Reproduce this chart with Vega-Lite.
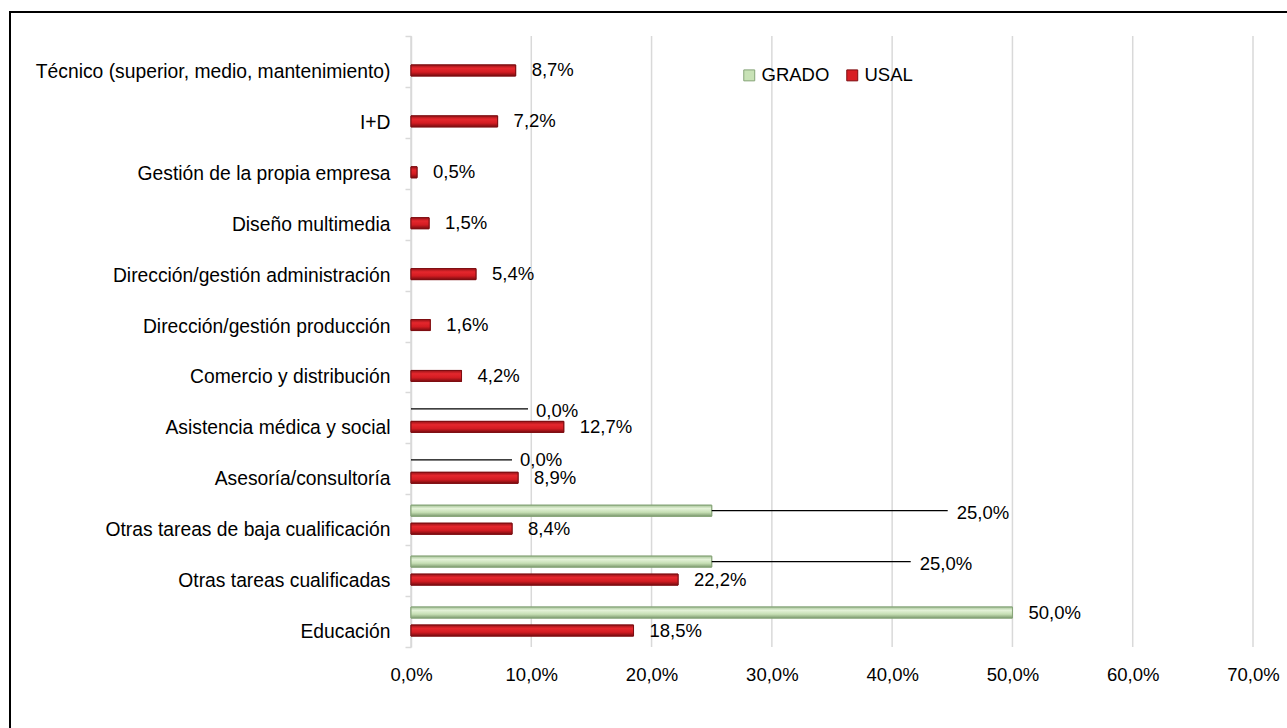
{
  "$schema": "https://vega.github.io/schema/vega-lite/v6.json",
  "width": 1277,
  "height": 716,
  "autosize": {"type": "none"},
  "padding": {"left": 10, "top": 12, "right": 0, "bottom": 0},
  "background": "white",
  "datasets": {
    "bars": [
      {"cat": "Técnico (superior, medio, mantenimiento)", "serie": "USAL", "v": 0.087},
      {"cat": "I+D", "serie": "USAL", "v": 0.072},
      {"cat": "Gestión  de la propia empresa", "serie": "USAL", "v": 0.005},
      {"cat": "Diseño multimedia", "serie": "USAL", "v": 0.015},
      {"cat": "Dirección/gestión administración", "serie": "USAL", "v": 0.054},
      {"cat": "Dirección/gestión producción", "serie": "USAL", "v": 0.016},
      {"cat": "Comercio y distribución", "serie": "USAL", "v": 0.042},
      {"cat": "Asistencia médica y social", "serie": "USAL", "v": 0.127},
      {"cat": "Asesoría/consultoría", "serie": "USAL", "v": 0.089},
      {"cat": "Otras tareas de baja cualificación", "serie": "USAL", "v": 0.084},
      {"cat": "Otras tareas cualificadas", "serie": "USAL", "v": 0.222},
      {"cat": "Educación", "serie": "USAL", "v": 0.185},
      {"cat": "Asistencia médica y social", "serie": "GRADO", "v": 0.0},
      {"cat": "Asesoría/consultoría", "serie": "GRADO", "v": 0.0},
      {"cat": "Otras tareas de baja cualificación", "serie": "GRADO", "v": 0.25},
      {"cat": "Otras tareas cualificadas", "serie": "GRADO", "v": 0.25},
      {"cat": "Educación", "serie": "GRADO", "v": 0.5}
    ],
    "grid": [{"t": 0}, {"t": 0.1}, {"t": 0.2}, {"t": 0.3}, {"t": 0.4}, {"t": 0.5}, {"t": 0.6}, {"t": 0.7}]
  },
  "layer": [
    {
      "data": {"name": "grid"},
      "mark": {"type": "rule", "color": "#D9D9D9", "strokeWidth": 1.5},
      "encoding": {
        "x": {
          "field": "t",
          "type": "quantitative",
          "scale": {"domain": [0, 0.7], "range": [401, 1243], "nice": false},
          "axis": {
            "title": null,
            "orient": "bottom",
            "offset": -81,
            "format": ".1%",
            "values": [0, 0.1, 0.2, 0.3, 0.4, 0.5, 0.6, 0.7],
            "domain": false,
            "ticks": false,
            "tickSize": 0,
            "grid": false,
            "labelFlush": false,
            "labelPadding": 18
          }
        },
        "y": {"datum": 0, "type": "quantitative", "scale": {"domain": [0, 1], "range": [24, 635], "nice": false, "zero": false}, "axis": null},
        "y2": {"datum": 1}
      }
    },
    {
      "data": {"name": "bars"},
      "encoding": {
        "y": {
          "field": "cat",
          "type": "nominal",
          "sort": null,
          "scale": {
            "type": "band",
            "domain": ["Técnico (superior, medio, mantenimiento)", "I+D", "Gestión  de la propia empresa", "Diseño multimedia", "Dirección/gestión administración", "Dirección/gestión producción", "Comercio y distribución", "Asistencia médica y social", "Asesoría/consultoría", "Otras tareas de baja cualificación", "Otras tareas cualificadas", "Educación"],
            "range": [24, 635],
            "paddingInner": 0,
            "paddingOuter": 0
          },
          "axis": {
            "title": null,
            "offset": -401,
            "domainColor": "#D9D9D9",
            "domainWidth": 1.5,
            "tickColor": "#D9D9D9",
            "tickWidth": 1.5,
            "tickSize": 6,
            "tickBand": "extent",
            "labelPadding": 15,
            "labelOffset": 10,
            "labelFontSize": 19.3,
            "grid": false,
            "labelLimit": 500
          }
        },
        "yOffset": {
          "field": "serie",
          "type": "nominal",
          "scale": {"domain": ["GRADO", "USAL"], "paddingInner": 0.389, "paddingOuter": 0.609}
        },
        "x": {
          "field": "v",
          "type": "quantitative",
          "scale": {"domain": [0, 0.7], "range": [401, 1243], "nice": false},
          "axis": {
            "title": null,
            "orient": "bottom",
            "offset": -81,
            "format": ".1%",
            "values": [0, 0.1, 0.2, 0.3, 0.4, 0.5, 0.6, 0.7],
            "domain": false,
            "ticks": false,
            "tickSize": 0,
            "grid": false,
            "labelFlush": false,
            "labelPadding": 18
          }
        }
      },
      "layer": [
        {
          "transform": [{"filter": "datum.v > 0"}],
          "mark": {"type": "bar", "strokeWidth": 1},
          "encoding": {
            "fill": {
              "field": "serie",
              "type": "nominal",
              "scale": {"domain": ["GRADO", "USAL"], "range": ["#C8E2B6", "#D81E24"]},
              "legend": {
                "title": null,
                "orient": "none",
                "legendX": 730,
                "legendY": 54,
                "direction": "horizontal",
                "symbolType": "square",
                "symbolSize": 120,
                "symbolStrokeWidth": 1,
                "labelFontSize": 18.5,
                "labelOffset": 3,
                "columnPadding": 13
              }
            },
            "stroke": {
              "field": "serie",
              "type": "nominal",
              "scale": {"domain": ["GRADO", "USAL"], "range": ["#86A478", "#7E0E12"]},
              "legend": null
            }
          }
        },
        {
          "transform": [{"filter": "datum.serie === 'USAL' && datum.v > 0"}],
          "mark": {
            "type": "bar",
            "stroke": "#7E0E12",
            "strokeWidth": 1,
            "fill": {
              "x1": 0, "y1": 0, "x2": 0, "y2": 1,
              "gradient": "linear",
              "stops": [
                {"offset": 0, "color": "#9A1418"},
                {"offset": 0.3, "color": "#E5272D"},
                {"offset": 0.65, "color": "#D31C22"},
                {"offset": 1, "color": "#7A0C10"}
              ]
            }
          },
          "encoding": {}
        },
        {
          "transform": [{"filter": "datum.serie === 'GRADO' && datum.v > 0"}],
          "mark": {
            "type": "bar",
            "stroke": "#86A478",
            "strokeWidth": 1,
            "fill": {
              "x1": 0, "y1": 0, "x2": 0, "y2": 1,
              "gradient": "linear",
              "stops": [
                {"offset": 0, "color": "#A6C498"},
                {"offset": 0.3, "color": "#E4F2D8"},
                {"offset": 0.65, "color": "#C6DFB4"},
                {"offset": 1, "color": "#7F9C70"}
              ]
            }
          },
          "encoding": {}
        },
        {
          "transform": [{"filter": "datum.serie === 'USAL' || datum.cat === 'Educación'"}],
          "mark": {"type": "text", "align": "left", "baseline": "middle", "dx": 16, "fontSize": 18.5, "font": "Liberation Sans", "color": "black"},
          "encoding": {"text": {"field": "v", "type": "quantitative", "format": ".1%"}}
        },
        {
          "transform": [{"filter": "datum.serie === 'GRADO' && datum.cat === 'Asistencia médica y social'"}],
          "mark": {"type": "rule", "x2Offset": 117, "color": "black", "strokeWidth": 1.3},
          "encoding": {"x2": {"field": "v"}}
        },
        {
          "transform": [{"filter": "datum.serie === 'GRADO' && datum.cat === 'Asistencia médica y social'"}],
          "mark": {"type": "text", "align": "left", "baseline": "middle", "dx": 125, "dy": 2, "fontSize": 18.5, "font": "Liberation Sans", "color": "black"},
          "encoding": {"text": {"field": "v", "type": "quantitative", "format": ".1%"}}
        },
        {
          "transform": [{"filter": "datum.serie === 'GRADO' && datum.cat === 'Asesoría/consultoría'"}],
          "mark": {"type": "rule", "x2Offset": 101, "color": "black", "strokeWidth": 1.3},
          "encoding": {"x2": {"field": "v"}}
        },
        {
          "transform": [{"filter": "datum.serie === 'GRADO' && datum.cat === 'Asesoría/consultoría'"}],
          "mark": {"type": "text", "align": "left", "baseline": "middle", "dx": 109, "dy": 0, "fontSize": 18.5, "font": "Liberation Sans", "color": "black"},
          "encoding": {"text": {"field": "v", "type": "quantitative", "format": ".1%"}}
        },
        {
          "transform": [{"filter": "datum.serie === 'GRADO' && datum.cat === 'Otras tareas de baja cualificación'"}],
          "mark": {"type": "rule", "x2Offset": 236, "color": "black", "strokeWidth": 1.3},
          "encoding": {"x2": {"field": "v"}}
        },
        {
          "transform": [{"filter": "datum.serie === 'GRADO' && datum.cat === 'Otras tareas de baja cualificación'"}],
          "mark": {"type": "text", "align": "left", "baseline": "middle", "dx": 245, "dy": 2, "fontSize": 18.5, "font": "Liberation Sans", "color": "black"},
          "encoding": {"text": {"field": "v", "type": "quantitative", "format": ".1%"}}
        },
        {
          "transform": [{"filter": "datum.serie === 'GRADO' && datum.cat === 'Otras tareas cualificadas'"}],
          "mark": {"type": "rule", "x2Offset": 199, "color": "black", "strokeWidth": 1.3},
          "encoding": {"x2": {"field": "v"}}
        },
        {
          "transform": [{"filter": "datum.serie === 'GRADO' && datum.cat === 'Otras tareas cualificadas'"}],
          "mark": {"type": "text", "align": "left", "baseline": "middle", "dx": 208, "dy": 2, "fontSize": 18.5, "font": "Liberation Sans", "color": "black"},
          "encoding": {"text": {"field": "v", "type": "quantitative", "format": ".1%"}}
        }
      ]
    }
  ],
  "resolve": {"scale": {"y": "independent"}},
  "config": {
    "locale": {"number": {"decimal": ",", "thousands": ".", "grouping": [3], "currency": ["", " €"]}},
    "font": "Liberation Sans",
    "view": {"stroke": "black", "strokeWidth": 2, "strokeDash": [1277, 1993, 716], "fill": "white"},
    "axis": {"labelFont": "Liberation Sans", "labelFontSize": 18.5, "labelColor": "black"},
    "legend": {"labelFont": "Liberation Sans", "labelColor": "black"}
  }
}
